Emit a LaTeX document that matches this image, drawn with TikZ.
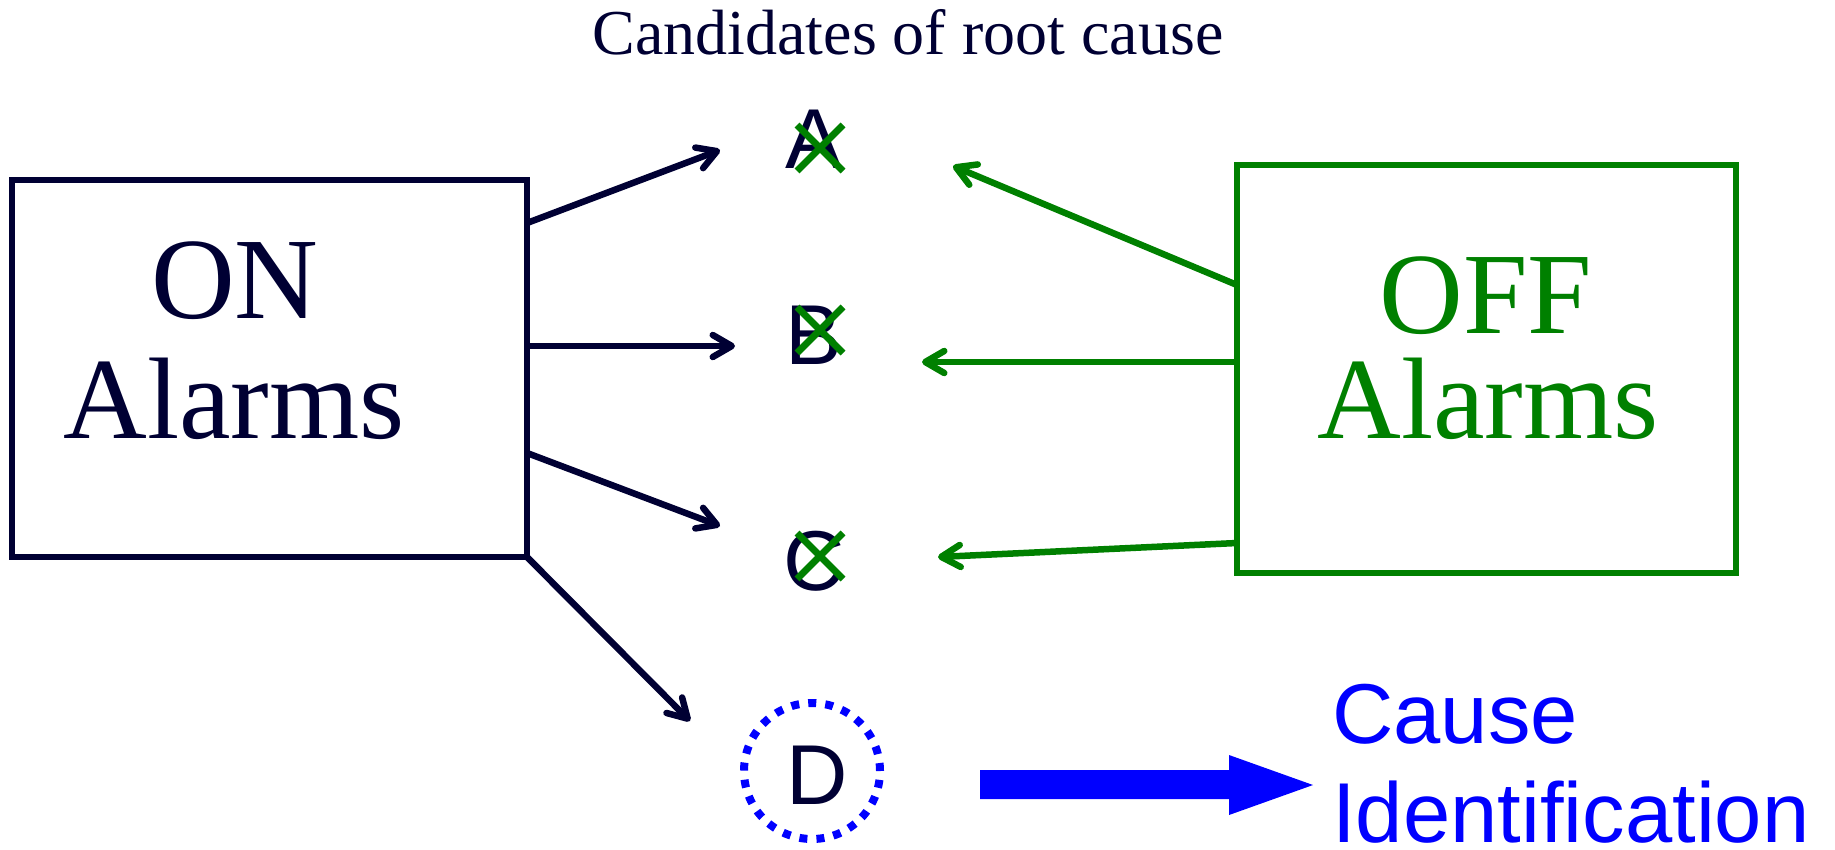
\documentclass[tikz,border=0pt]{standalone}
\usepackage{fontspec}
\setmainfont{Liberation Serif}
\newfontfamily\arialfont{Liberation Sans}
\usetikzlibrary{arrows.meta,shapes.misc}
\definecolor{navy}{RGB}{0,0,51}
\definecolor{offgreen}{RGB}{0,128,0}
\definecolor{idblue}{RGB}{0,0,255}
\begin{document}
\begin{tikzpicture}[x=1pt,y=-1pt,
  box/.style={draw, rectangle, line width=5.5pt, inner sep=0pt, outer sep=0pt},
  bigtext/.style={font=\fontsize{116}{120}\selectfont, inner sep=0pt, anchor=base},
  letter/.style={font=\arialfont\fontsize{85}{90}\selectfont, text=navy, inner sep=0pt, anchor=base},
  idtext/.style={font=\arialfont\fontsize{85}{100}\selectfont, text=idblue, inner sep=0pt, anchor=base west},
  conn/.style={line width=6.5pt, -{Straight Barb[length=19pt,width=22pt,round]}},
  xmark/.style={cross out, draw=offgreen, line width=7pt, minimum size=46pt, inner sep=0pt, outer sep=0pt}
]
\useasboundingbox (0,0) rectangle (1835,849);

% title
\node[font=\fontsize{64}{70}\selectfont, text=navy, inner sep=0pt, anchor=base] (title) at (908,54) {Candidates of root cause};

% ON box
\node[box, draw=navy, minimum width=515pt, minimum height=377pt] (on) at (269.5,368.5) {};
\node[bigtext, text=navy] (ontxt) at (235,318) {ON};
\node[bigtext, text=navy] (onalarms) at (234,438) {Alarms};

% OFF box
\node[box, draw=offgreen, minimum width=499pt, minimum height=408pt] (off) at (1486.5,369) {};
\node[bigtext, text=offgreen] (offtxt) at (1486,333) {OFF};
\node[bigtext, text=offgreen] (offalarms) at (1488,438) {Alarms};

% candidates
\node[letter] (A) at (814,168) {A};
\node[letter] (B) at (814,364) {B};
\node[letter] (C) at (814,590) {C};
\node[circle, draw=idblue, line width=8pt, dash pattern=on 8pt off 9.1pt, minimum size=136pt, inner sep=0pt] (Dring) at (812,771) {};
\node[letter] (D) at (817,804) {D};

% crosses
\node[xmark] (xA) at (820,148) {};
\node[xmark] (xB) at (820,330) {};
\node[xmark] (xC) at (820,556) {};

% arrow tips
\coordinate (tA) at (720,150);
\coordinate (tB) at (735,346);
\coordinate (tC) at (720,526);
\coordinate (tD) at (690,721);
\coordinate (gA) at (953,166);
\coordinate (gB) at (922,362);
\coordinate (gC) at (938,557);

% ON connectors
\draw[conn, navy] ([yshift=145.5pt]on.east) -- (tA);
\draw[conn, navy] ([yshift=22.5pt]on.east) -- (tB);
\draw[conn, navy] ([yshift=-84.5pt]on.east) -- (tC);
\draw[conn, navy] (on.south east) -- (tD);

% OFF connectors
\draw[conn, offgreen] ([yshift=84pt]off.west) -- (gA);
\draw[conn, offgreen] ([yshift=7pt]off.west) -- (gB);
\draw[conn, offgreen] ([yshift=-174pt]off.west) -- (gC);

% block arrow
\fill[idblue] (980,770) -- (1229,770) -- (1229,755) -- (1313,785) -- (1229,815) -- (1229,799) -- (980,799) -- cycle;

% result text
\node[idtext] (cause) at (1332,743) {Cause};
\node[idtext] (ident) at (1332,842) {Identification};
\end{tikzpicture}
\end{document}
